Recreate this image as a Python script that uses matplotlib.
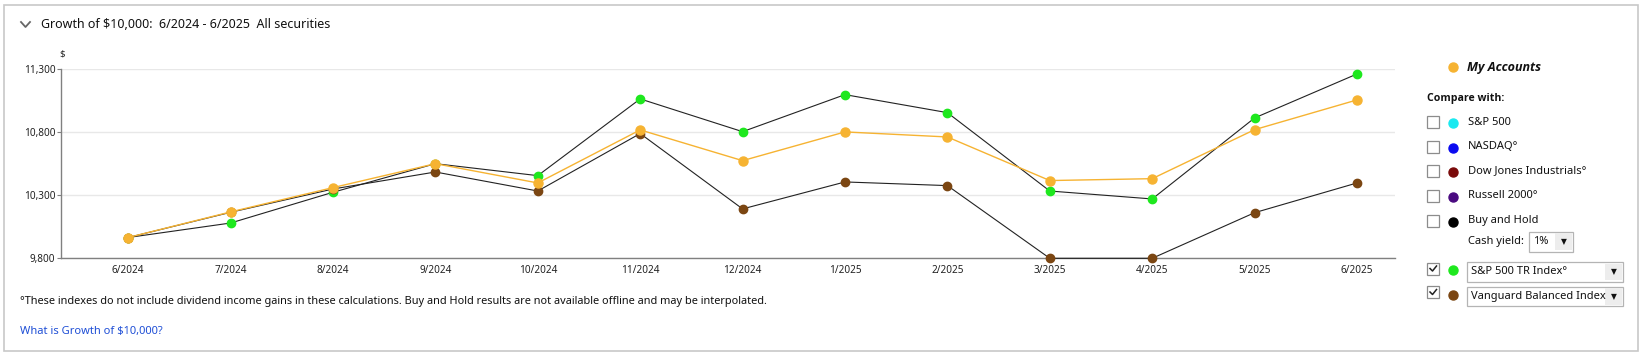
import matplotlib
matplotlib.use('Agg')
import matplotlib.pyplot as plt
from matplotlib.patches import Rectangle
from matplotlib.lines import Line2D

# ---- data ----
months = ['6/2024', '7/2024', '8/2024', '9/2024', '10/2024', '11/2024', '12/2024',
          '1/2025', '2/2025', '3/2025', '4/2025', '5/2025', '6/2025']
my_accounts = [9965, 10168, 10361, 10551, 10398, 10819, 10575, 10803, 10763, 10417, 10432, 10821, 11057]
sp500_tr = [9965, 10080, 10324, 10551, 10456, 11065, 10805, 11099, 10956, 10334, 10271, 10914, 11263]
vanguard = [9965, 10165, 10350, 10485, 10334, 10790, 10192, 10406, 10377, 9800, 9800, 10162, 10398]
y_ticks = [9800, 10300, 10800, 11300]

compare_names = ['S&P 500', 'NASDAQ°', 'Dow Jones Industrials°', 'Russell 2000°', 'Buy and Hold']
compare_colors = ['#19e9f0', '#0a0af0', '#7a0a0a', '#4a0a80', '#000000']

c_orange = '#f6b332'
c_green = '#1ee81e'
c_brown = '#7b4612'

W, H = 1643, 355
plt.rcParams['font.family'] = ['Noto Sans', 'DejaVu Sans']


def fx(x):
    return x / W


def fy(y):
    return 1 - y / H


fig = plt.figure(figsize=(W / 100, H / 100), dpi=100)

# outer frame
fig.patches.append(Rectangle((fx(4), fy(351)), (1638 - 4) / W, (351 - 5) / H,
                             transform=fig.transFigure, fill=False,
                             edgecolor='#c8c8c8', lw=1.2))

# header
fig.add_artist(Line2D([fx(21), fx(25.5), fx(30)], [fy(22), fy(27), fy(22)],
                      transform=fig.transFigure, color='#666666', lw=1.3))
fig.text(fx(41), fy(25), 'Growth of $10,000:  6/2024 - 6/2025  All securities',
         fontsize=9, va='center', ha='left', color='#111111')

# ---- main chart ----
ax = fig.add_axes([fx(61), fy(258.3), (1395 - 61) / W, (258.3 - 69.3) / H])
x = list(range(len(months)))

ax.plot(x, sp500_tr, color='#222222', lw=0.8, zorder=3, clip_on=False)
ax.plot(x, sp500_tr, 'o', color=c_green, ms=6, zorder=4, clip_on=False)
ax.plot(x, vanguard, color='#222222', lw=0.8, zorder=3, clip_on=False)
ax.plot(x, vanguard, 'o', color=c_brown, ms=6, zorder=4, clip_on=False)
ax.plot(x, my_accounts, color=c_orange, lw=1.0, zorder=5, clip_on=False)
ax.plot(x, my_accounts, 'o', color=c_orange, ms=6.5, zorder=6, clip_on=False)

ax.set_xlim(-0.656, 12.371)
ax.set_ylim(9800, 11300)
ax.set_xticks(x)
ax.set_xticklabels(months)
ax.set_yticks(y_ticks)
ax.set_yticklabels([f'{v:,}' for v in y_ticks])
ax.tick_params(axis='x', length=0, pad=5, labelsize=7.2, labelcolor='#222222')
ax.tick_params(axis='y', length=3, width=0.8, color='#808080', pad=1,
               labelsize=7.2, labelcolor='#222222')
ax.grid(axis='y', color='#e8e8e8', lw=1)
ax.set_axisbelow(True)
for s in ['top', 'right']:
    ax.spines[s].set_visible(False)
for s in ['left', 'bottom']:
    ax.spines[s].set_color('#808080')
    ax.spines[s].set_linewidth(1)

fig.text(fx(62), fy(54), '$', fontsize=7, ha='center', va='center', color='#222222')

# footnotes
fig.text(fx(20), fy(301.5), '°These indexes do not include dividend income gains in these calculations. '
         'Buy and Hold results are not available offline and may be interpolated.',
         fontsize=7.9, ha='left', va='center', color='#111111')
fig.text(fx(20), fy(331.5), 'What is Growth of $10,000?', fontsize=8, ha='left', va='center',
         color='#1f4fd6')

# ---- legend panel ----
def dot(xp, yp, color):
    fig.add_artist(Line2D([fx(xp)], [fy(yp)], marker='o', ms=6.5, color=color,
                          transform=fig.transFigure, lw=0))


def checkbox(xp, yp, checked=False):
    fig.patches.append(Rectangle((fx(xp), fy(yp + 6)), 12 / W, 12 / H,
                                 transform=fig.transFigure, facecolor='white',
                                 edgecolor='#8c8c8c', lw=0.9))
    if checked:
        fig.add_artist(Line2D([fx(xp + 3), fx(xp + 5.5), fx(xp + 9.5)],
                              [fy(yp), fy(yp + 2.5), fy(yp - 2.5)],
                              transform=fig.transFigure, color='#222222', lw=1.1))


def dropdown(x0, y0, x1, y1, label):
    fig.patches.append(Rectangle((fx(x0), fy(y1)), (x1 - x0) / W, (y1 - y0) / H,
                                 transform=fig.transFigure, facecolor='white',
                                 edgecolor='#b4b4b4', lw=0.9))
    fig.patches.append(Rectangle((fx(x1 - 18), fy(y1 - 1.5)), 17 / W, (y1 - y0 - 3) / H,
                                 transform=fig.transFigure, facecolor='#ededed', lw=0))
    fig.text(fx(x0 + 4), fy((y0 + y1) / 2), label, fontsize=8, ha='left', va='center',
             color='#111111')
    fig.text(fx(x1 - 9.5), fy((y0 + y1) / 2), '▼', fontsize=5.5, ha='center', va='center',
             color='#111111', family='DejaVu Sans')


dot(1453, 66.5, c_orange)
fig.text(fx(1467), fy(67), 'My Accounts', fontsize=9, fontweight='bold', fontstyle='italic',
         ha='left', va='center', color='#111111', family='Open Sans')
fig.text(fx(1427), fy(98), 'Compare with:', fontsize=7.6, fontweight='bold',
         ha='left', va='center', color='#111111', family='Open Sans')

row_y = [122.3, 146.7, 171, 195.7, 220.7]
for name, col, yp in zip(compare_names, compare_colors, row_y):
    checkbox(1427, yp)
    dot(1453, yp + 1, col)
    fig.text(fx(1468), fy(yp), name, fontsize=8, ha='left', va='center', color='#111111')

fig.text(fx(1468), fy(241.7), 'Cash yield:', fontsize=8, ha='left', va='center', color='#111111')
dropdown(1529, 231.7, 1573, 251.7, '1%')

checkbox(1427, 268.5, checked=True)
dot(1453, 270, c_green)
dropdown(1467, 262, 1623, 281.7, 'S&P 500 TR Index°')

checkbox(1427, 292, checked=True)
dot(1453, 295, c_brown)
dropdown(1467, 286.7, 1623, 306, 'Vanguard Balanced Index')

fig.savefig('out.png', dpi=100)
